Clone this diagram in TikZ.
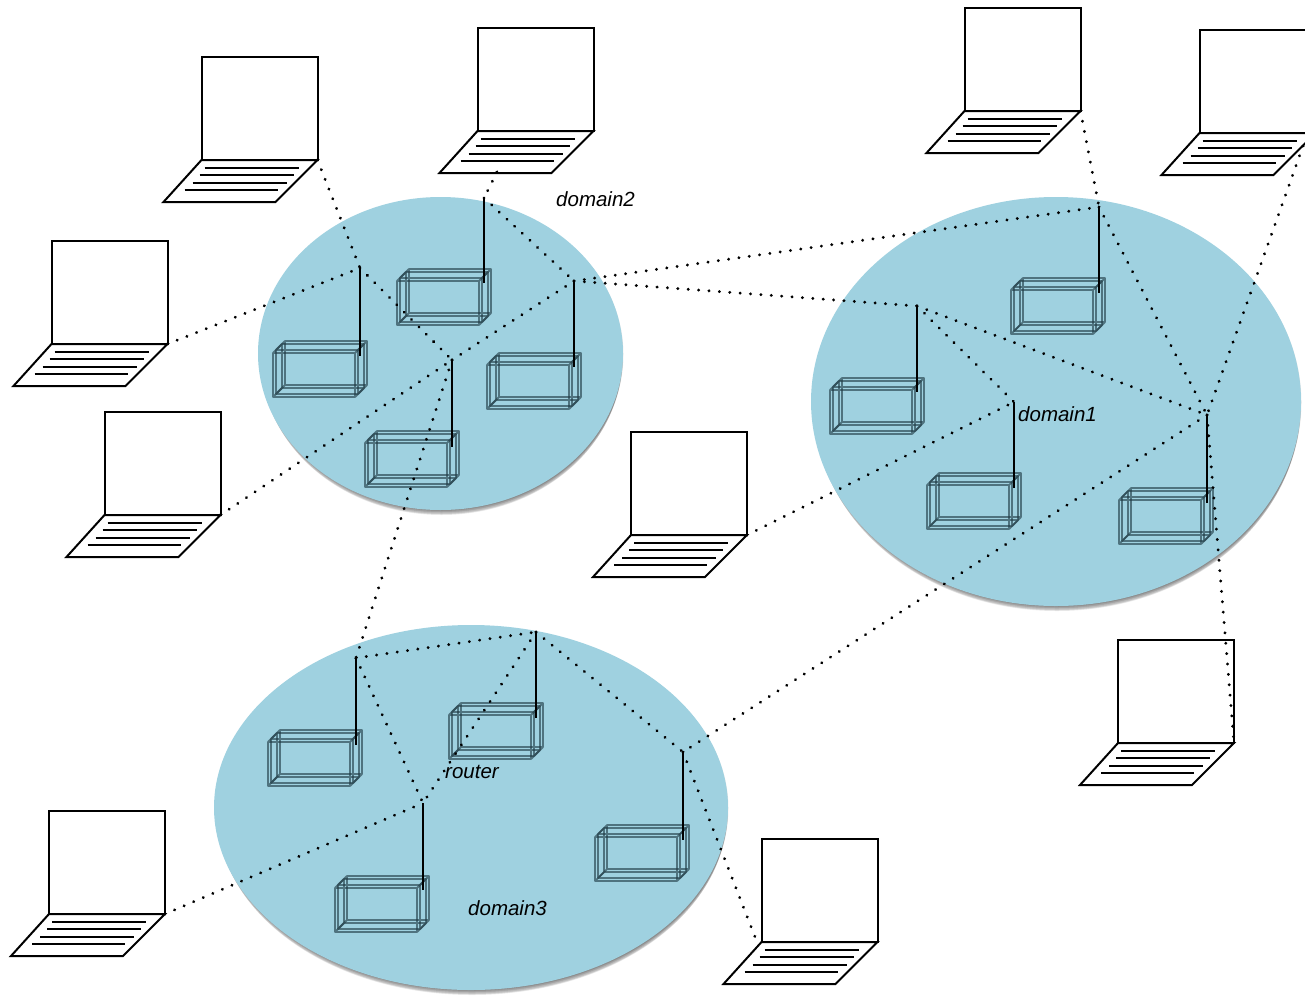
\documentclass[tikz,border=0pt]{standalone}
\usepackage{fontspec}
\setmainfont{Liberation Sans}
\usetikzlibrary{shapes.geometric}
\definecolor{blob}{HTML}{9FD1E0}
\definecolor{wire}{HTML}{1F3A44}
\tikzset{
  domainshape/.style={ellipse,draw=none,fill=blob,inner sep=0pt,outer sep=0pt},
  shadowlayer/.style={ellipse,draw=none,fill=black,fill opacity=.07,inner sep=0pt,outer sep=0pt},
  dotlink/.style={line width=3.2pt,line cap=round,dash pattern=on 0.01pt off 10.4pt,black},
  antenna/.style={line width=2.3pt,black},
  wireframe/.style={line width=1.8pt,draw=wire,draw opacity=.62,line join=round},
  lapline/.style={line width=2pt,black,line join=miter},
  keyline/.style={line width=2pt,black},
  lab/.style={font=\fontsize{20.5pt}{24pt}\selectfont\itshape,anchor=base west,inner sep=0pt,text=black}
}
% #1 name, #2 x, #3 y, #4 width, #5 height
\newcommand{\domainblob}[5]{
  \foreach \dd/\gg in {8/-6,7/-5,6/-4,5/-3,4/-3,3/-2,2/-2,1/-1}{
    \node[shadowlayer,minimum width=#4pt+\gg pt,minimum height=#5pt+\gg pt] at (#2+1,#3+\dd) {};
  }
  \node[domainshape,minimum width=#4pt,minimum height=#5pt] (#1) at (#2,#3) {};
}
% #1 x, #2 y (front bottom left)
\newcommand{\wirebox}[2]{
  \draw[wireframe,shift={(#1,#2)}] (0,0) rectangle (82,-44) (9,-9) rectangle (91,-53)
    (0,0)--(9,-9) (82,0)--(91,-9) (0,-44)--(9,-53) (82,-44)--(91,-53);
}
% #1 router name, #2 x, #3 y box; #4 antenna x, #5 top y, #6 bottom y
\newcommand{\routerbox}[6]{
  \wirebox{#2}{#3}
  \wirebox{#2+3}{#3-3}
  \coordinate (#1) at (#4,#5);
  \coordinate (#1b) at (#4,#6);
}
% #1 name, #2 x, #3 y (screen bottom left)
\newcommand{\laptopicon}[3]{
  \begin{scope}[shift={(#2,#3)}]
    \draw[lapline,fill=white] (0,0) rectangle (116,-103);
    \draw[lapline,fill=white] (0,0) -- (116,0) -- (74,42) -- (-38,42) -- cycle;
    \draw[keyline] (3,8)--(97,8) (-2,15)--(92,15) (-9,23)--(85,23) (-17,30)--(76,30);
    \coordinate (#1) at (116,0);
    \coordinate (#1k) at (58,42);
  \end{scope}
}
\begin{document}
\begin{tikzpicture}[x=1pt,y=-1pt]
\useasboundingbox (0,0) rectangle (1305,996);
\clip (0,0) rectangle (1305,996);
\fill[white] (0,0) rectangle (1305,996);

\domainblob{domA}{1056}{401.5}{490}{409}
\domainblob{domB}{440.5}{353.5}{365}{313}
\domainblob{domC}{471}{807.5}{514}{365}

\routerbox{rb1}{397}{325}{484}{198}{283}
\routerbox{rb2}{273}{397}{360}{268}{356}
\routerbox{rb3}{487}{409}{574}{281}{367}
\routerbox{rb4}{365}{487}{452}{360}{447}
\routerbox{ra1}{1011}{334}{1099}{207}{293}
\routerbox{ra2}{830}{434}{917}{306}{392}
\routerbox{ra3}{927}{529}{1014}{402}{488}
\routerbox{ra4}{1119}{544}{1207}{415}{503}
\routerbox{rc1}{268}{786}{356}{658}{745}
\routerbox{rc2}{449}{759}{536}{632}{718}
\routerbox{rc3}{335}{932}{423}{803}{890}
\routerbox{rc4}{595}{881}{683}{752}{840}

\laptopicon{lA}{201.5}{160}
\laptopicon{lB}{477.5}{131}
\laptopicon{lC}{964.5}{111}
\laptopicon{lD}{1199.5}{133}
\laptopicon{lE}{51.5}{344}
\laptopicon{lF}{104.5}{515}
\laptopicon{lG}{631}{535}
\laptopicon{lH}{1118}{743}
\laptopicon{lI}{49}{914}
\laptopicon{lJ}{761.5}{942}

\coordinate (lBs) at (497,172);
\coordinate (lDs) at (1303,146);
\coordinate (lJs) at (757,942);

\foreach \p/\q in {
  lBs/rb1, rb1/rb3, lA/rb2, rb2/rb4, lE/rb2, lF/rb4, rb4/rb3, rb4/rc1,
  rb3/ra1, rb3/ra2, lC/ra1, ra1/ra4, ra2/ra4, ra2/ra3, lG/ra3, lDs/ra4,
  ra4/lH, ra4/rc4, rc1/rc2, rc1/rc3, rc2/rc3, rc2/rc4, lI/rc3, rc4/lJs}{
  \draw[dotlink] (\p) -- (\q);
}

\foreach \r in {rb1,rb2,rb3,rb4,ra1,ra2,ra3,ra4,rc1,rc2,rc3,rc4}{
  \draw[antenna] (\r) -- (\r b);
}

\node[lab] (t2) at (556,206) {domain2};
\node[lab] (t1) at (1018,421) {domain1};
\node[lab] (tr) at (445,778) {router};
\node[lab] (t3) at (468,915) {domain3};
\end{tikzpicture}
\end{document}
